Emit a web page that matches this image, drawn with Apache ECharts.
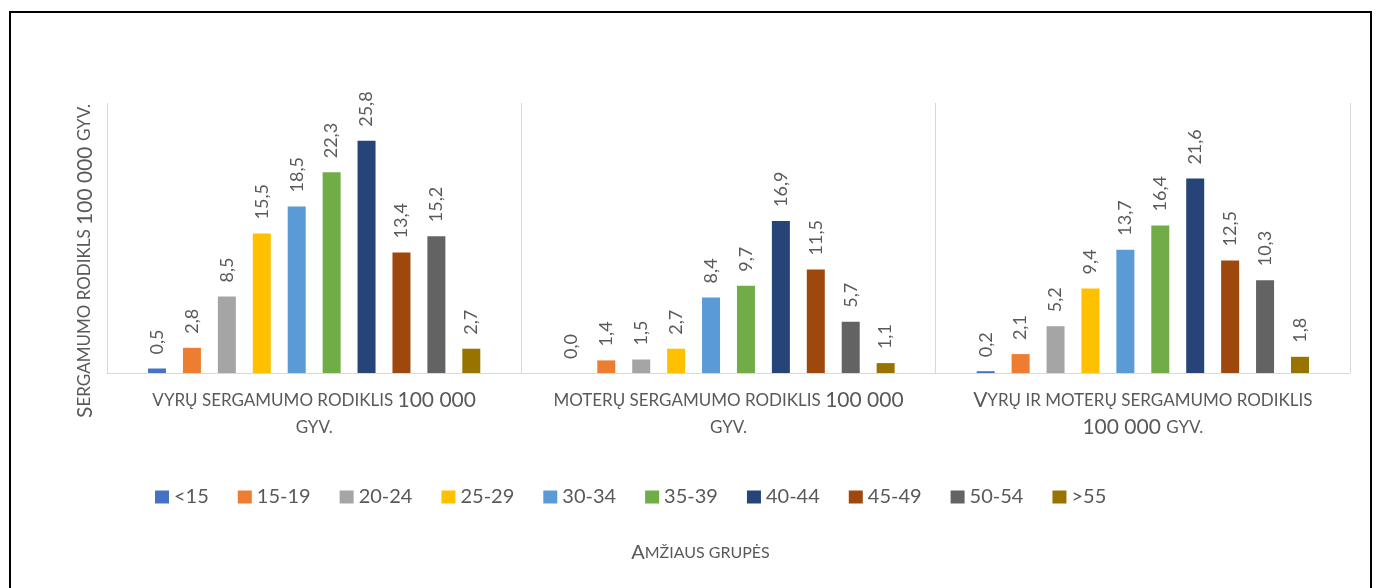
<!DOCTYPE html>
<html>
<head>
<meta charset="utf-8">
<script src="https://cdn.jsdelivr.net/npm/echarts@6/dist/echarts.min.js"></script>
<style>
html, body { margin: 0; padding: 0; background: #fff; }
#chart { width: 1383px; height: 588px; }
</style>
</head>
<body>
<div id="chart"></div>
<script>
// rate groups (x axis) and age groups (series)
var groups = [
    'vyrų sergamumo rodiklis 100 000\ngyv.',
    'moterų sergamumo rodiklis 100 000\ngyv.',
    'Vyrų ir moterų sergamumo rodiklis\n100 000 gyv.'
];
var ageGroups = ['<15', '15-19', '20-24', '25-29', '30-34', '35-39', '40-44', '45-49', '50-54', '>55'];
var men   = [0.5, 2.8, 8.5, 15.5, 18.5, 22.3, 25.8, 13.4, 15.2, 2.7];
var women = [0.0, 1.4, 1.5, 2.7, 8.4, 9.7, 16.9, 11.5, 5.7, 1.1];
var both  = [0.2, 2.1, 5.2, 9.4, 13.7, 16.4, 21.6, 12.5, 10.3, 1.8];
var colors = ['#4472C4', '#ED7D31', '#A5A5A5', '#FFC000', '#5B9BD5', '#70AD47', '#264478', '#9E480E', '#636363', '#997300'];
var yTitle = 'Sergamumo rodikls 100 000 gyv.';
var xTitle = 'Amžiaus grupės';

var FONT = 'Lato';
var GREY = '#595959';

// excel style small caps: lower case letters drawn as smaller capitals
function smallCaps(text) {
    return text.split('\n').map(function (line) {
        var out = '', run = '', type = null;
        for (var i = 0; i < line.length; i++) {
            var ch = line[i];
            var t;
            if (ch !== ch.toUpperCase()) t = 's';
            else if (/[0-9A-ZĄČĘĖĮŠŲŪŽ]/.test(ch)) t = 'b';
            else t = type || 's';
            if (t !== type && run) {
                out += '{' + type + '|' + run + '}';
                run = '';
            }
            type = t;
            run += ch.toUpperCase();
        }
        if (run) out += '{' + type + '|' + run + '}';
        return out;
    }).join('\n');
}

function capsRich(small, big, lh) {
    return {
        s: { fontFamily: FONT, fontSize: small, color: GREY, lineHeight: lh },
        b: { fontFamily: FONT, fontSize: big, color: GREY, lineHeight: lh }
    };
}

var dom = document.getElementById('chart');
var myChart = echarts.init(dom);

var series = ageGroups.map(function (name, i) {
    return {
        name: name,
        type: 'bar',
        data: [men[i], women[i], both[i]],
        itemStyle: { color: colors[i] },
        barWidth: 18,
        barGap: '94%',
        label: {
            show: true,
            position: 'top',
            rotate: 90,
            align: 'left',
            verticalAlign: 'middle',
            distance: 14,
            color: GREY,
            fontFamily: FONT,
            fontSize: 18,
            formatter: function (p) {
                return p.value.toFixed(1).replace('.', ',');
            }
        }
    };
});

var option = {
    animation: false,
    color: colors,
    grid: {
        left: 107,
        right: 33,
        top: 103,
        bottom: 215
    },
    legend: {
        data: ageGroups,
        left: 155,
        top: 486,
        padding: 0,
        itemWidth: 14,
        itemHeight: 13,
        itemGap: 29,
        icon: 'rect',
        textStyle: {
            color: GREY,
            fontFamily: FONT,
            fontSize: 20,
            lineHeight: 22
        }
    },
    xAxis: {
        type: 'category',
        data: groups,
        name: smallCaps(xTitle),
        nameLocation: 'middle',
        nameGap: 169,
        nameTextStyle: {
            padding: [0, 56, 0, 0],
            rich: capsRich(16, 20, 22)
        },
        axisLine: { lineStyle: { color: '#d9d9d9', width: 1 } },
        axisTick: { show: false },
        splitLine: { show: true, lineStyle: { color: '#d9d9d9', width: 1 } },
        axisLabel: {
            margin: 14,
            interval: 0,
            formatter: function (v) { return smallCaps(v); },
            rich: capsRich(17, 21, 27)
        }
    },
    yAxis: {
        type: 'value',
        min: 0,
        max: 30,
        name: smallCaps(yTitle),
        nameLocation: 'middle',
        nameRotate: 90,
        nameGap: 10,
        nameTextStyle: {
            padding: [0, 46, 0, 0],
            rich: capsRich(17, 21, 24)
        },
        axisLine: { show: false },
        axisTick: { show: false },
        axisLabel: { show: false },
        splitLine: { show: false }
    },
    graphic: [{
        type: 'rect',
        silent: true,
        shape: { x: 10, y: 12, width: 1361, height: 700 },
        style: { fill: 'none', stroke: '#000', lineWidth: 2 }
    }],
    series: series
};

if (option && typeof option === 'object') {
    myChart.setOption(option, true);
}
</script>
</body>
</html>
